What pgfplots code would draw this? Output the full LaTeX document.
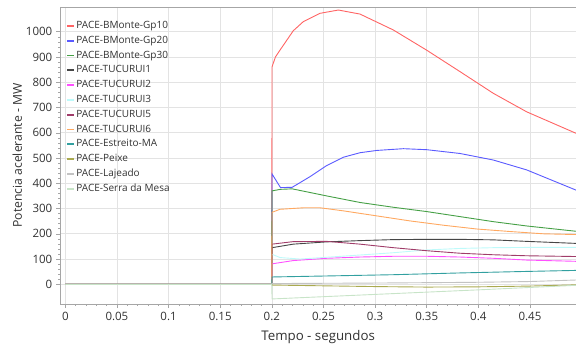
\documentclass[border=0pt]{standalone}
\usepackage{pgfplots}
\pgfplotsset{compat=1.18}
\usepackage{fontspec}
\setmainfont{Open Sans}
\definecolor{cA}{RGB}{255,100,100}
\definecolor{cB}{RGB}{90,90,255}
\definecolor{cC}{RGB}{70,160,70}
\definecolor{cD}{RGB}{70,70,70}
\definecolor{cE}{RGB}{255,80,255}
\definecolor{cF}{RGB}{190,250,250}
\definecolor{cG}{RGB}{160,60,105}
\definecolor{cH}{RGB}{255,168,96}
\definecolor{cI}{RGB}{50,160,160}
\definecolor{cJ}{RGB}{170,170,80}
\definecolor{cK}{RGB}{195,195,195}
\definecolor{cL}{RGB}{200,228,200}
\definecolor{txt}{RGB}{50,50,50}
\begin{document}
\begin{tikzpicture}
\begin{axis}[
  at={(60.3pt,45pt)}, anchor=south west,
  scale only axis, width=515.7pt, height=297pt,
  xmin=-0.00484, xmax=0.4946, ymin=-78, ymax=1098,
  xtick={0,0.05,...,0.45},
  xticklabels={0,0.05,0.1,0.15,0.2,0.25,0.3,0.35,0.4,0.45},
  ytick={0,100,...,1000},
  yticklabels={0,100,200,300,400,500,600,700,800,900,1000},
  minor x tick num=4, minor y tick num=4,
  tick align=outside, tick pos=left,
  major tick length=4pt, minor tick length=2pt,
  every tick/.style={gray!70, line width=0.5pt},
  axis line style={gray!70, line width=0.6pt},
  grid=major, major grid style={gray!22, line width=0.6pt},
  /pgf/number format/assume math mode=true,
  tick label style={font=\fontsize{11.5}{13}\selectfont, text=txt},
  xticklabel style={yshift=-1pt},
  yticklabel style={xshift=-0.5pt},
  xlabel={Tempo - segundos}, ylabel={Potencia acelerante - MW},
  xlabel style={at={(axis description cs:0.5,-0.1111)}, anchor=center, font=\fontsize{13.3}{15}\selectfont, text=txt},
  ylabel style={at={(axis description cs:-0.0834,0.5)}, anchor=center, font=\fontsize{12.2}{15}\selectfont, text=txt},
  legend cell align=left,
  legend style={draw=none, fill=none, at={(axis description cs:0,1)}, anchor=north west,
    xshift=3pt, yshift=-11.7pt, font=\fontsize{10}{12}\selectfont, text=txt,
    row sep=4.8pt, column sep=1.5pt,
    nodes={inner sep=0pt, text height=7.5pt, text depth=2.5pt}},
  legend image code/.code={\draw[#1, line width=1.7pt] (0pt,0pt) -- (6.7pt,0pt);},
  every axis plot/.append style={line width=0.9pt},
]
\addplot[cA] coordinates {(0,0) (0.2,0) (0.2002,861) (0.2035,900) (0.2079,927) (0.2208,1004) (0.2305,1040) (0.2467,1073) (0.2645,1086) (0.2854,1070) (0.3177,1007) (0.3500,927) (0.3823,842) (0.4146,756) (0.4468,683) (0.4946,598)};
\addlegendentry{PACE-BMonte-Gp10}
\addplot[cB] coordinates {(0,0) (0.2,0) (0.2002,437) (0.2084,383) (0.2197,384) (0.2369,426) (0.2531,470) (0.2692,503) (0.2854,521) (0.3015,530) (0.3274,537) (0.3500,533) (0.3823,518) (0.4146,492) (0.4468,453) (0.4946,373)};
\addlegendentry{PACE-BMonte-Gp20}
\addplot[cC] coordinates {(0,0) (0.2,0) (0.2002,370) (0.2084,376) (0.2197,378) (0.2531,350) (0.2854,324) (0.3177,305) (0.3500,288) (0.3823,268) (0.4146,248) (0.4468,231) (0.4946,210)};
\addlegendentry{PACE-BMonte-Gp30}
\addplot[cD] coordinates {(0,0) (0.2,0) (0.2002,145) (0.2208,159) (0.2531,168) (0.2854,173) (0.3177,177) (0.3500,178) (0.3823,178) (0.4146,176) (0.4468,170) (0.4946,162)};
\addlegendentry{PACE-TUCURUI1}
\addplot[cE] coordinates {(0,0) (0.2,0) (0.2002,81) (0.2208,94) (0.2531,103) (0.2854,108) (0.3177,111) (0.3500,111) (0.3823,108) (0.4146,103) (0.4468,96) (0.4946,91)};
\addlegendentry{PACE-TUCURUI2}
\addplot[cF] coordinates {(0,0) (0.2,0) (0.2002,119) (0.2079,106) (0.2272,100) (0.2531,107) (0.2854,116) (0.3177,125) (0.3500,136) (0.3823,142) (0.4146,145) (0.4468,146) (0.4946,146)};
\addlegendentry{PACE-TUCURUI3}
\addplot[cG] coordinates {(0,0) (0.2,0) (0.2002,159) (0.2208,169) (0.2531,170) (0.2854,159) (0.3177,145) (0.3500,133) (0.3823,123) (0.4146,117) (0.4468,113) (0.4946,110)};
\addlegendentry{PACE-TUCURUI5}
\addplot[cH] coordinates {(0,0) (0.2,0) (0.2002,285) (0.2079,297) (0.2305,303) (0.2467,303) (0.2690,291) (0.3015,271) (0.3338,251) (0.3661,234) (0.3984,219) (0.4307,209) (0.4630,200) (0.4946,197)};
\addlegendentry{PACE-TUCURUI6}
\addplot[cI] coordinates {(0,0) (0.2,0) (0.2002,29) (0.2531,33) (0.3177,38) (0.3823,45) (0.4468,51) (0.4946,55)};
\addlegendentry{PACE-Estreito-MA}
\addplot[cJ] coordinates {(0,0) (0.2,0) (0.2002,-3) (0.25,-6) (0.3,-9) (0.35,-11) (0.4,-10) (0.45,-7) (0.4946,-2)};
\addlegendentry{PACE-Peixe}
\addplot[cK] coordinates {(0,0) (0.2,0) (0.2002,3) (0.3,5) (0.4,8) (0.45,11) (0.4946,17)};
\addlegendentry{PACE-Lajeado}
\addplot[cL] coordinates {(0,0) (0.2,0) (0.2002,-58) (0.3,-40) (0.4,-22) (0.4946,-4)};
\addlegendentry{PACE-Serra da Mesa}
\end{axis}
\pgfresetboundingbox
\useasboundingbox (0,0) rectangle (576pt,349pt);
\end{tikzpicture}
\end{document}
